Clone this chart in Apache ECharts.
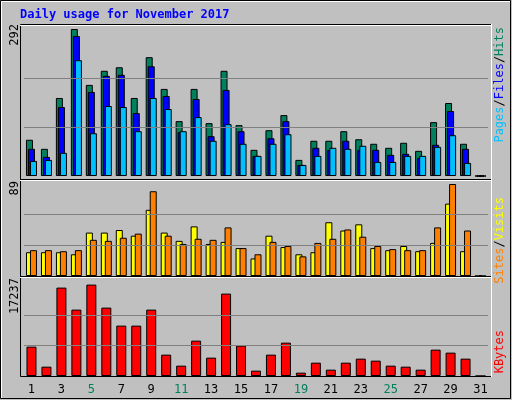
<!DOCTYPE html>
<html><head><meta charset="utf-8">
<script src="https://cdn.jsdelivr.net/npm/echarts@6/dist/echarts.min.js"></script>
<style>html,body{margin:0;padding:0;background:#c0c0c0}#c{width:512px;height:400px}</style>
</head><body><div id="c"></div>
<script>
const days = Array.from({length:31},(_,i)=>String(i+1));
const weekendDays = ['4','5','11','12','18','19','25','26'];
const hits  = [72,54,155,292,181,209,216,155,236,173,109,173,105,209,101,52,91,121,32,70,70,89,73,64,56,66,50,107,145,64,0];
const files = [54,38,137,278,167,199,201,125,218,159,87,153,79,171,89,40,75,109,22,56,52,70,52,52,42,44,36,62,129,54,0];
const pages = [30,32,46,230,85,139,137,89,155,133,89,117,70,103,64,40,64,83,22,40,56,54,60,28,28,40,40,58,81,26,0];
const sites = [23,23,23,21,42,42,44.5,39,64,42,34,48,31,33,27,17,39,28,21,23,52,44,50,27,25,29,24,32,70,24,0];
const visits= [25,25,24,25,35,34,37,41,82,39,31,36,35,47,27,21,33,29,19,32,36,45,38,29,26,25,25,47,89,44,0];
const kbytes= [5536,1761,16670,12519,17237,12896,9499,9499,12519,4026,1950,6668,3460,15538,5725,1006,4026,6291,629,2516,1195,2516,3271,2894,1950,1761,1195,4970,4404,3271,0];
const maxHits = 292, maxVisits = 89, maxKB = 17237;

const mono = 'DejaVu Sans Mono';
const L = 24, W = 464;
const grids = [
  {left:L, width:W, top:24, height:152},
  {left:L, width:W, top:181, height:95},
  {left:L, width:W, top:278, height:98}
];
const yMax = [maxHits*152/147, maxVisits*95/92, maxKB*98/91.4];
const refMax = [maxHits, maxVisits, maxKB];
function xAx(i){return {type:'category',gridIndex:i,data:days,axisLine:{show:false},axisTick:{show:false},
  axisLabel:{show:i===2,fontFamily:mono,fontSize:12,margin:8,color:(v)=>weekendDays.includes(v)?'#00805c':'#000'}};}
function yAx(i){return {type:'value',gridIndex:i,min:0,max:yMax[i],axisLabel:{show:false},axisLine:{show:false},axisTick:{show:false},splitLine:{show:false}};}
function grid3(i){const m=refMax[i];return {silent:true,symbol:'none',label:{show:false},lineStyle:{color:'#808080',type:'solid',width:1},data:[{yAxis:m/3},{yAxis:2*m/3}]};}
const bs = {borderColor:'#000',borderWidth:1};
const series = [
  {type:'bar',xAxisIndex:0,yAxisIndex:0,data:hits,barWidth:7,barGap:'-71%',itemStyle:{color:'#00805c',...bs},markLine:grid3(0),z:1},
  {type:'bar',xAxisIndex:0,yAxisIndex:0,data:files,barWidth:7,barGap:'-71%',itemStyle:{color:'#0000ff',...bs},z:2},
  {type:'bar',xAxisIndex:0,yAxisIndex:0,data:pages,barWidth:7,barGap:'-71%',itemStyle:{color:'#00c0ff',...bs},z:3},
  {type:'bar',xAxisIndex:1,yAxisIndex:1,data:sites,barWidth:7,barGap:'-43%',itemStyle:{color:'#ffff00',...bs},markLine:grid3(1),z:1},
  {type:'bar',xAxisIndex:1,yAxisIndex:1,data:visits,barWidth:7,barGap:'-43%',itemStyle:{color:'#ff8000',...bs},z:2},
  {type:'bar',xAxisIndex:2,yAxisIndex:2,data:kbytes,barWidth:10,itemStyle:{color:'#ff0000',...bs},markLine:grid3(2),z:1}
];
function vText(x,y,rich,text){return {type:'text',x:x,y:y,rotation:Math.PI/2,z:10,
  style:{text:text,rich:rich,font:'12px '+mono,align:'right',verticalAlign:'middle'}};}
const graphic = [
  {type:'rect',shape:{x:0.5,y:0.5,width:510,height:398},style:{fill:'none',stroke:'#000'},z:-1},
  {type:'polyline',shape:{points:[[1.5,398],[1.5,1.5],[510,1.5]]},style:{stroke:'#fff',fill:'none'},z:-1},
  {type:'rect',shape:{x:20.5,y:24.5,width:471,height:352},style:{fill:'none',stroke:'#000'},z:0},
  {type:'line',shape:{x1:20,y1:25.5,x2:491,y2:25.5},style:{stroke:'#fff'}},
  {type:'line',shape:{x1:491.5,y1:24,x2:491.5,y2:377},style:{stroke:'#fff'}},
  {type:'line',shape:{x1:20,y1:179.5,x2:491,y2:179.5},style:{stroke:'#000'}},
  {type:'line',shape:{x1:20,y1:180.5,x2:491,y2:180.5},style:{stroke:'#fff'}},
  {type:'line',shape:{x1:20,y1:276.5,x2:491,y2:276.5},style:{stroke:'#000'}},
  {type:'line',shape:{x1:20,y1:277.5,x2:491,y2:277.5},style:{stroke:'#fff'}},
  {type:'text',x:20,y:9,style:{text:'Daily usage for November 2017',font:'bold 12px '+mono,fill:'#0000ff'}},
  vText(15,24,{},String(maxHits)),
  vText(15,181,{},String(maxVisits)),
  vText(15,278,{},String(maxKB)),
  vText(500,27,{p:{fill:'#00c0ff'},f:{fill:'#0000ff'},h:{fill:'#00805c'},s:{fill:'#000'}},'{p|Pages}{s|/}{f|Files}{s|/}{h|Hits}'),
  vText(500,197,{a:{fill:'#ff8000'},b:{fill:'#ffff00'},s:{fill:'#000'}},'{a|Sites}{s|/}{b|Visits}'),
  vText(500,330,{k:{fill:'#ff0000'}},'{k|KBytes}')
];
const chart = echarts.init(document.getElementById('c'));
chart.setOption({backgroundColor:'#c0c0c0',animation:false,grid:grids,
  xAxis:[xAx(0),xAx(1),xAx(2)],yAxis:[yAx(0),yAx(1),yAx(2)],series:series,graphic:graphic});
</script></body></html>
